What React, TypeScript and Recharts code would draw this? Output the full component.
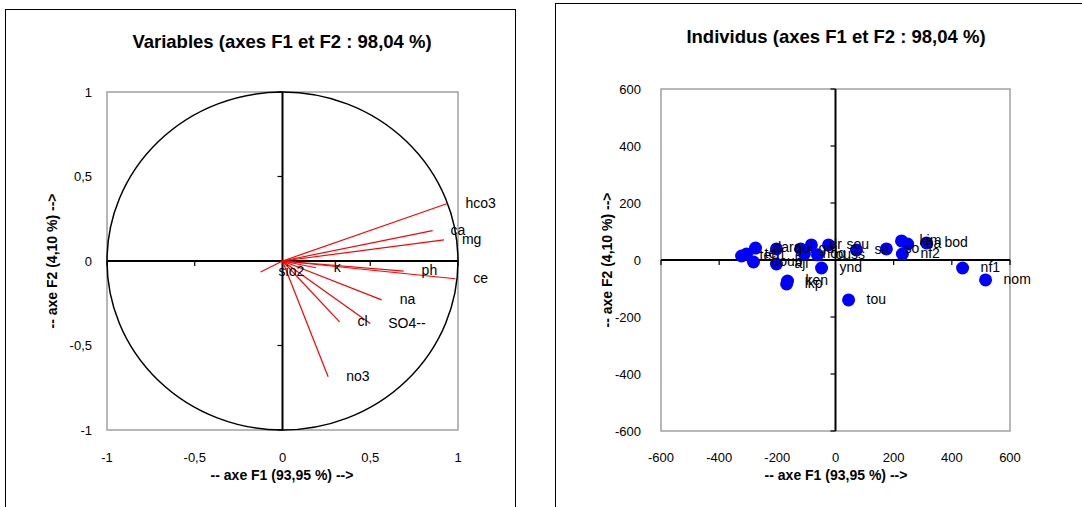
import React from "react";
import {
  ScatterChart,
  Scatter,
  XAxis,
  YAxis,
  ReferenceLine,
  ReferenceArea,
  ReferenceDot,
} from "recharts";

// cercle des corrélations : variables
const varNames = ["hco3", "ca", "mg", "ce", "ph", "k", "na", "SO4--", "cl", "no3", "sio2"];
const varF1 = [0.94, 0.855, 0.92, 0.985, 0.69, 0.19, 0.565, 0.5, 0.325, 0.26, -0.125];
const varF2 = [0.34, 0.18, 0.125, -0.105, -0.06, -0.04, -0.23, -0.37, -0.36, -0.685, -0.065];
const varTicks = [-1, -0.5, 0, 0.5, 1];

// individus
const indNames = [
  "tel", "teh", "dara", "doub", "goi", "aji", "ken", "lkp", "gui", "dr", "nog", "ouss",
  "ynd", "sou", "sa", "so", "kim", "ba", "nf2", "bod", "nf1", "nom", "tou",
];
const indF1 = [
  -323, -306, -275, -282, -203, -203, -165, -168, -120, -83, -107, -62,
  -48, -24, 72, 175, 227, 248, 230, 313, 437, 516, 45,
];
const indF2 = [
  14, 21, 42, -7, 39, -14, -74, -84, 39, 53, 21, 18,
  -28, 53, 35, 39, 67, 56, 21, 60, -28, -70, -140,
];
const indTicks = [-600, -400, -200, 0, 200, 400, 600];

const font = "'Liberation Sans', Arial, sans-serif";
const fmt = (v: number) => String(v).replace(".", ",");

const varData = varNames.map((name, i) => ({ name, x: varF1[i], y: varF2[i] }));
const indData = indNames.map((name, i) => ({ name, x: indF1[i], y: indF2[i] }));

const tickStyle = { fontSize: 13, fill: "#000", fontFamily: font };

// petits traits de graduation sur les axes centraux
const hTick = (p: any) => (
  <line x1={p.cx} y1={p.cy} x2={p.cx} y2={p.cy + 5} stroke="#000" strokeWidth={1.2} />
);
const vTick = (p: any) => (
  <line x1={p.cx - 5} y1={p.cy} x2={p.cx} y2={p.cy} stroke="#000" strokeWidth={1.2} />
);

const textLabel = (p: any) => (
  <text x={p.cx + 18} y={p.cy + 4} fontSize={14} fontFamily={font} fill="#000">
    {p.payload.name}
  </text>
);

function VariablesChart() {
  return (
    <ScatterChart width={540} height={507} margin={{ top: 92, right: 82, bottom: 47, left: 47 }}>
      <XAxis
        type="number"
        dataKey="x"
        domain={[-1, 1]}
        ticks={varTicks}
        tickFormatter={fmt}
        axisLine={false}
        tickLine={false}
        tickMargin={17}
        height={30}
        tick={tickStyle}
      />
      <YAxis
        type="number"
        dataKey="y"
        domain={[-1, 1]}
        ticks={varTicks}
        tickFormatter={fmt}
        axisLine={false}
        tickLine={false}
        tickMargin={9}
        width={60}
        tick={tickStyle}
      />
      <ReferenceArea
        x1={-1}
        x2={1}
        y1={-1}
        y2={1}
        shape={(p: any) => (
          <g>
            <rect x={p.x} y={p.y} width={p.width} height={p.height} fill="none" stroke="#a0a0a0" strokeWidth={1.5} />
            <ellipse
              cx={p.x + p.width / 2}
              cy={p.y + p.height / 2}
              rx={p.width / 2}
              ry={p.height / 2}
              fill="none"
              stroke="#000"
              strokeWidth={1.5}
            />
          </g>
        )}
      />
      <ReferenceLine x={0} stroke="#000" strokeWidth={2} />
      <ReferenceLine y={0} stroke="#000" strokeWidth={2} />
      {varTicks.filter((t) => t !== 0).map((t) => (
        <ReferenceDot key={"h" + t} x={t} y={0} shape={hTick} />
      ))}
      {varTicks.filter((t) => t !== 0).map((t) => (
        <ReferenceDot key={"v" + t} x={0} y={t} shape={vTick} />
      ))}
      {varData.map((d) => (
        <ReferenceLine
          key={d.name}
          segment={[{ x: 0, y: 0 }, { x: d.x, y: d.y }]}
          stroke="#ff0000"
          strokeWidth={1.2}
        />
      ))}
      <Scatter data={varData} shape={textLabel} isAnimationActive={false} />
    </ScatterChart>
  );
}

function IndividusChart() {
  return (
    <ScatterChart width={534} height={507} margin={{ top: 89, right: 72, bottom: 46, left: 53 }}>
      <XAxis
        type="number"
        dataKey="x"
        domain={[-600, 600]}
        ticks={indTicks}
        axisLine={false}
        tickLine={false}
        tickMargin={16}
        height={30}
        tick={tickStyle}
      />
      <YAxis
        type="number"
        dataKey="y"
        domain={[-600, 600]}
        ticks={indTicks}
        axisLine={false}
        tickLine={false}
        tickMargin={14}
        width={60}
        tick={tickStyle}
      />
      <ReferenceArea x1={-600} x2={600} y1={-600} y2={600} fill="none" stroke="#a0a0a0" strokeWidth={1.5} fillOpacity={0} />
      <ReferenceLine x={0} stroke="#000" strokeWidth={2} />
      <ReferenceLine y={0} stroke="#000" strokeWidth={2} />
      {indTicks.filter((t) => t !== 0).map((t) => (
        <ReferenceDot key={"h" + t} x={t} y={0} shape={hTick} />
      ))}
      {indTicks.filter((t) => t !== 0).map((t) => (
        <ReferenceDot key={"v" + t} x={0} y={t} shape={vTick} />
      ))}
      <Scatter
        data={indData}
        isAnimationActive={false}
        shape={(p: any) => <circle cx={p.cx} cy={p.cy} r={6.5} fill="#0000ff" />}
      />
      <Scatter data={indData} shape={textLabel} isAnimationActive={false} />
    </ScatterChart>
  );
}

const titleStyle: React.CSSProperties = {
  position: "absolute",
  width: 460,
  textAlign: "center",
  fontWeight: "bold",
  fontSize: 18.5,
  lineHeight: "20px",
};

const axisTitleStyle: React.CSSProperties = {
  position: "absolute",
  width: 300,
  textAlign: "center",
  fontWeight: "bold",
  fontSize: 14,
  lineHeight: "18px",
  whiteSpace: "nowrap",
};

export default function App() {
  return (
    <div
      style={{
        position: "absolute",
        left: 0,
        top: 0,
        width: 1082,
        height: 507,
        overflow: "hidden",
        background: "#fff",
        fontFamily: font,
      }}
    >
      <div style={{ position: "absolute", left: 5, top: 9, width: 509, height: 560, border: "1px solid #000" }} />
      <div style={{ position: "absolute", left: 555, top: 3, width: 600, height: 600, border: "1px solid #000" }} />
      <div style={{ position: "absolute", left: 0, top: 0 }}>
        <VariablesChart />
      </div>
      <div style={{ position: "absolute", left: 548, top: 0 }}>
        <IndividusChart />
      </div>
      <div style={{ ...titleStyle, left: 282 - 230, top: 32 }}>Variables (axes F1 et F2 : 98,04 %)</div>
      <div style={{ ...titleStyle, left: 836 - 230, top: 27 }}>Individus (axes F1 et F2 : 98,04 %)</div>
      <div style={{ ...axisTitleStyle, left: 282 - 150, top: 466 }}>-- axe F1 (93,95 %) --&gt;</div>
      <div style={{ ...axisTitleStyle, left: 836 - 150, top: 466 }}>-- axe F1 (93,95 %) --&gt;</div>
      <div style={{ ...axisTitleStyle, left: 52 - 150, top: 261 - 9, transform: "rotate(-90deg)" }}>
        -- axe F2 (4,10 %) --&gt;
      </div>
      <div style={{ ...axisTitleStyle, left: 607 - 150, top: 260 - 9, transform: "rotate(-90deg)" }}>
        -- axe F2 (4,10 %) --&gt;
      </div>
    </div>
  );
}
